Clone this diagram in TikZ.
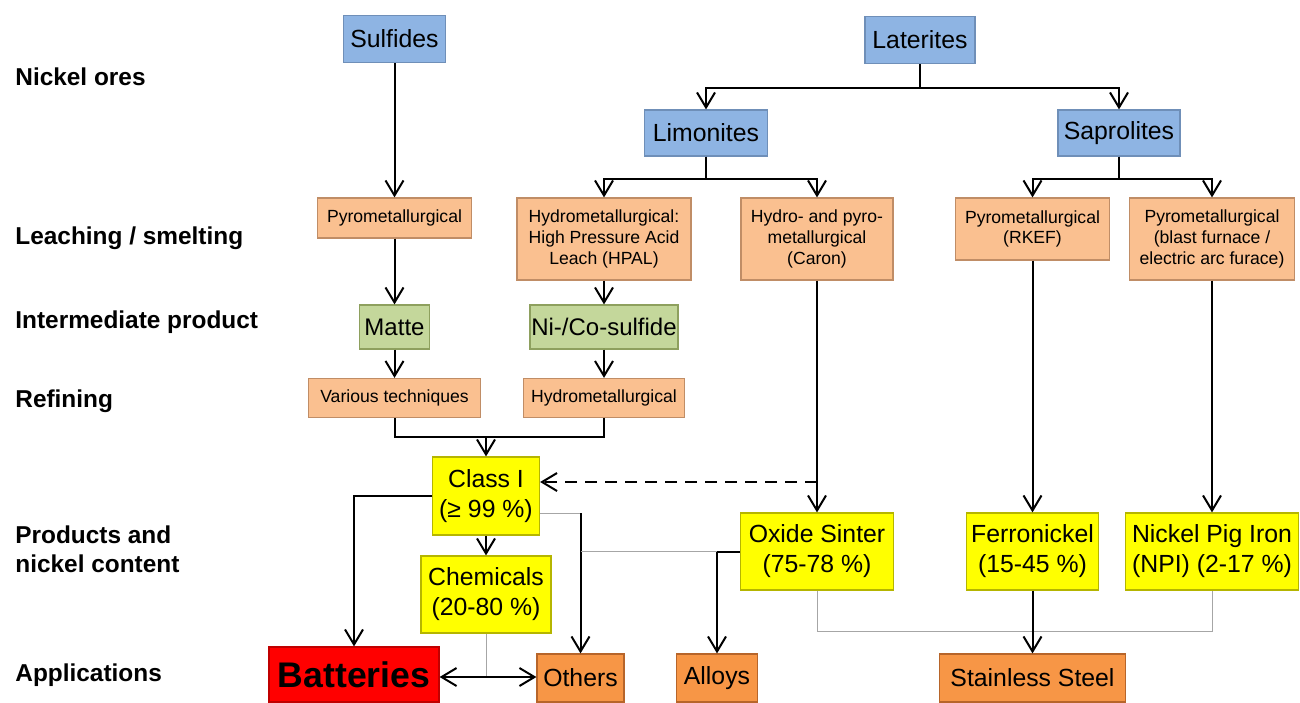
\documentclass[tikz,border=0pt]{standalone}
\usepackage{fontspec}
\setmainfont{Liberation Sans}
\usetikzlibrary{arrows.meta,calc,positioning}
\definecolor{oreBlue}{HTML}{8EB4E3}
\definecolor{oreLine}{HTML}{6F8FB8}
\definecolor{procPeach}{HTML}{FAC090}
\definecolor{procLine}{HTML}{C08D66}
\definecolor{midGreen}{HTML}{C4D79B}
\definecolor{midLine}{HTML}{8EA05E}
\definecolor{prodYellow}{HTML}{FFFF00}
\definecolor{prodLine}{HTML}{B5B500}
\definecolor{useOrange}{HTML}{F79646}
\definecolor{useLine}{HTML}{B7652A}
\definecolor{battRed}{HTML}{FF0000}
\definecolor{battLine}{HTML}{C00000}
\definecolor{linkGrey}{HTML}{A6A6A6}

\begin{document}
\begin{tikzpicture}[x=.5pt,y=-.5pt,>={Straight Barb[length=7.5pt,width=9pt]}]
  \tikzset{
    box/.style={line width=.6pt,inner sep=0pt,align=center},
    ore/.style={box,fill=oreBlue,draw=oreLine,font=\fontsize{12.4}{15}\selectfont},
    proc/.style={box,fill=procPeach,draw=procLine,font=\fontsize{8.8}{10.4}\selectfont},
    mid/.style={box,fill=midGreen,draw=midLine,font=\fontsize{12}{15}\selectfont},
    prod/.style={box,fill=prodYellow,draw=prodLine,font=\fontsize{12.4}{15}\selectfont},
    use/.style={box,fill=useOrange,draw=useLine,font=\fontsize{12.4}{15}\selectfont},
    tier/.style={anchor=west,align=left,inner sep=0pt,font=\fontsize{12.2}{14.5}\selectfont\bfseries},
    flow/.style={line width=1pt,->},
    link/.style={draw=linkGrey,line width=.5pt}
  }
  \useasboundingbox (0,0) rectangle (1300,702);
  % row labels
  \node[tier] (tOres) at (15,77) {Nickel ores};
  \node[tier] (tLeach) at (15,238) {Leaching / smelting};
  \node[tier] (tInter) at (15,322) {Intermediate product};
  \node[tier] (tRefine) at (15,401) {Refining};
  \node[tier] (tProd) at (15,549) {Products and\\nickel content};
  \node[tier] (tApp) at (15,675) {Applications};
  % ores
  \node[ore,minimum width=51pt,minimum height=23.5pt] (sulf) at (394.5,39) {Sulfides};
  \node[ore,minimum width=55pt,minimum height=23.5pt] (lat) at (920,40) {Laterites};
  \node[ore,minimum width=61.5pt,minimum height=23pt] (lim) at (706,133) {Limonites};
  \node[ore,minimum width=61pt,minimum height=23pt] (sap) at (1119,133) {Saprolites};
  % leaching / smelting
  \node[proc,minimum width=77pt,minimum height=20pt] (pyroS) at (394.5,218) {Pyrometallurgical};
  \node[proc,minimum width=87pt,minimum height=41pt] (hpal) at (604,239) {Hydrometallurgical:\\High Pressure Acid\\Leach (HPAL)};
  \node[proc,minimum width=76pt,minimum height=41pt] (caron) at (817,239) {Hydro- and pyro-\\metallurgical\\(Caron)};
  \node[proc,minimum width=77pt,minimum height=31pt] (rkef) at (1032.5,229) {Pyrometallurgical\\(RKEF)};
  \node[proc,minimum width=82.5pt,minimum height=41pt] (blast) at (1212,239) {Pyrometallurgical\\(blast furnace /\\electric arc furace)};
  % intermediate and refining
  \node[mid,minimum width=35pt,minimum height=22pt] (matte) at (394.5,327) {Matte};
  \node[mid,minimum width=74pt,minimum height=22pt] (nico) at (604,327) {Ni-/Co-sulfide};
  \node[proc,minimum width=86pt,minimum height=19.5pt] (various) at (394.5,398) {Various techniques};
  \node[proc,minimum width=80.5pt,minimum height=19.5pt] (hydroR) at (604,398) {Hydrometallurgical};
  % products
  \node[prod,minimum width=53.5pt,minimum height=39pt] (classI) at (486,496) {Class I\\(≥ 99 \%)};
  \node[prod,minimum width=65pt,minimum height=38.5pt] (chem) at (486,594.5) {Chemicals\\(20-80 \%)};
  \node[prod,minimum width=76.5pt,minimum height=38.5pt] (oxide) at (817,551.5) {Oxide Sinter\\(75-78 \%)};
  \node[prod,minimum width=66pt,minimum height=38.5pt] (ferro) at (1032.5,551.5) {Ferronickel\\(15-45 \%)};
  \node[prod,minimum width=86.5pt,minimum height=38.5pt] (npi) at (1212,551.5) {Nickel Pig Iron\\(NPI) (2-17 \%)};
  % applications
  \node[box,fill=battRed,draw=battLine,minimum width=85pt,minimum height=27.5pt,font=\fontsize{17.8}{20}\selectfont\bfseries] (batt) at (354,674.5) {Batteries};
  \node[use,minimum width=43.5pt,minimum height=24pt] (others) at (580.5,678) {Others};
  \node[use,minimum width=40.5pt,minimum height=24pt] (alloys) at (717,678) {Alloys};
  \node[use,minimum width=93pt,minimum height=24pt] (steel) at (1032.5,678) {Stainless Steel};
  % ore splits
  \draw[flow] (sulf.south) -- (pyroS.north);
  \draw[flow] (lat.south) -- ++(0,24) -| (lim.north);
  \draw[flow] (lat.south) -- ++(0,24) -| (sap.north);
  \draw[flow] (lim.south) -- ++(0,22) -| (hpal.north);
  \draw[flow] (lim.south) -- ++(0,22) -| (caron.north);
  \draw[flow] (sap.south) -- ++(0,22) -| (rkef.north);
  \draw[flow] (sap.south) -- ++(0,22) -| (blast.north);
  % sulfide route
  \draw[flow] (pyroS.south) -- (matte.north);
  \draw[flow] (hpal.south) -- (nico.north);
  \draw[flow] (matte.south) -- (various.north);
  \draw[flow] (nico.south) -- (hydroR.north);
  \coordinate (refJ) at (486,437);
  \draw[line width=1pt] (various.south) -- (various.south |- refJ) -- (hydroR.south |- refJ) -- (hydroR.south);
  \draw[flow] (refJ) -- (classI.north);
  % laterite products
  \draw[flow] (caron.south) -- (oxide.north);
  \draw[flow] (rkef.south) -- (ferro.north);
  \draw[flow] (blast.south) -- (npi.north);
  \coordinate (sinterTap) at (817,482);
  \draw[flow,dashed,dash pattern=on 6pt off 4pt] (sinterTap) -- (classI.east |- sinterTap);
  % to applications
  \draw[flow] (classI.south) -- (chem.north);
  \draw[flow] (classI.west) -| (batt.north);
  \coordinate (othersJ) at (580.5,513);
  \draw[link] (classI.east |- othersJ) -- (othersJ);
  \draw[flow] (othersJ) -- (others.north);
  \draw[flow] (oxide.west) -| (alloys.north);
  \draw[link] (othersJ |- oxide.west) -- (alloys.north |- oxide.west);
  \coordinate (steelJ) at (1032.5,631);
  \draw[link] (oxide.south) -- (oxide.south |- steelJ) -- (npi.south |- steelJ) -- (npi.south);
  \draw[flow] (ferro.south) -- (steel.north);
  \coordinate (appJ) at (486,677);
  \draw[link] (chem.south) -- (appJ);
  \draw[flow,<->] (batt.east |- appJ) -- (others.west |- appJ);
\end{tikzpicture}
\end{document}
